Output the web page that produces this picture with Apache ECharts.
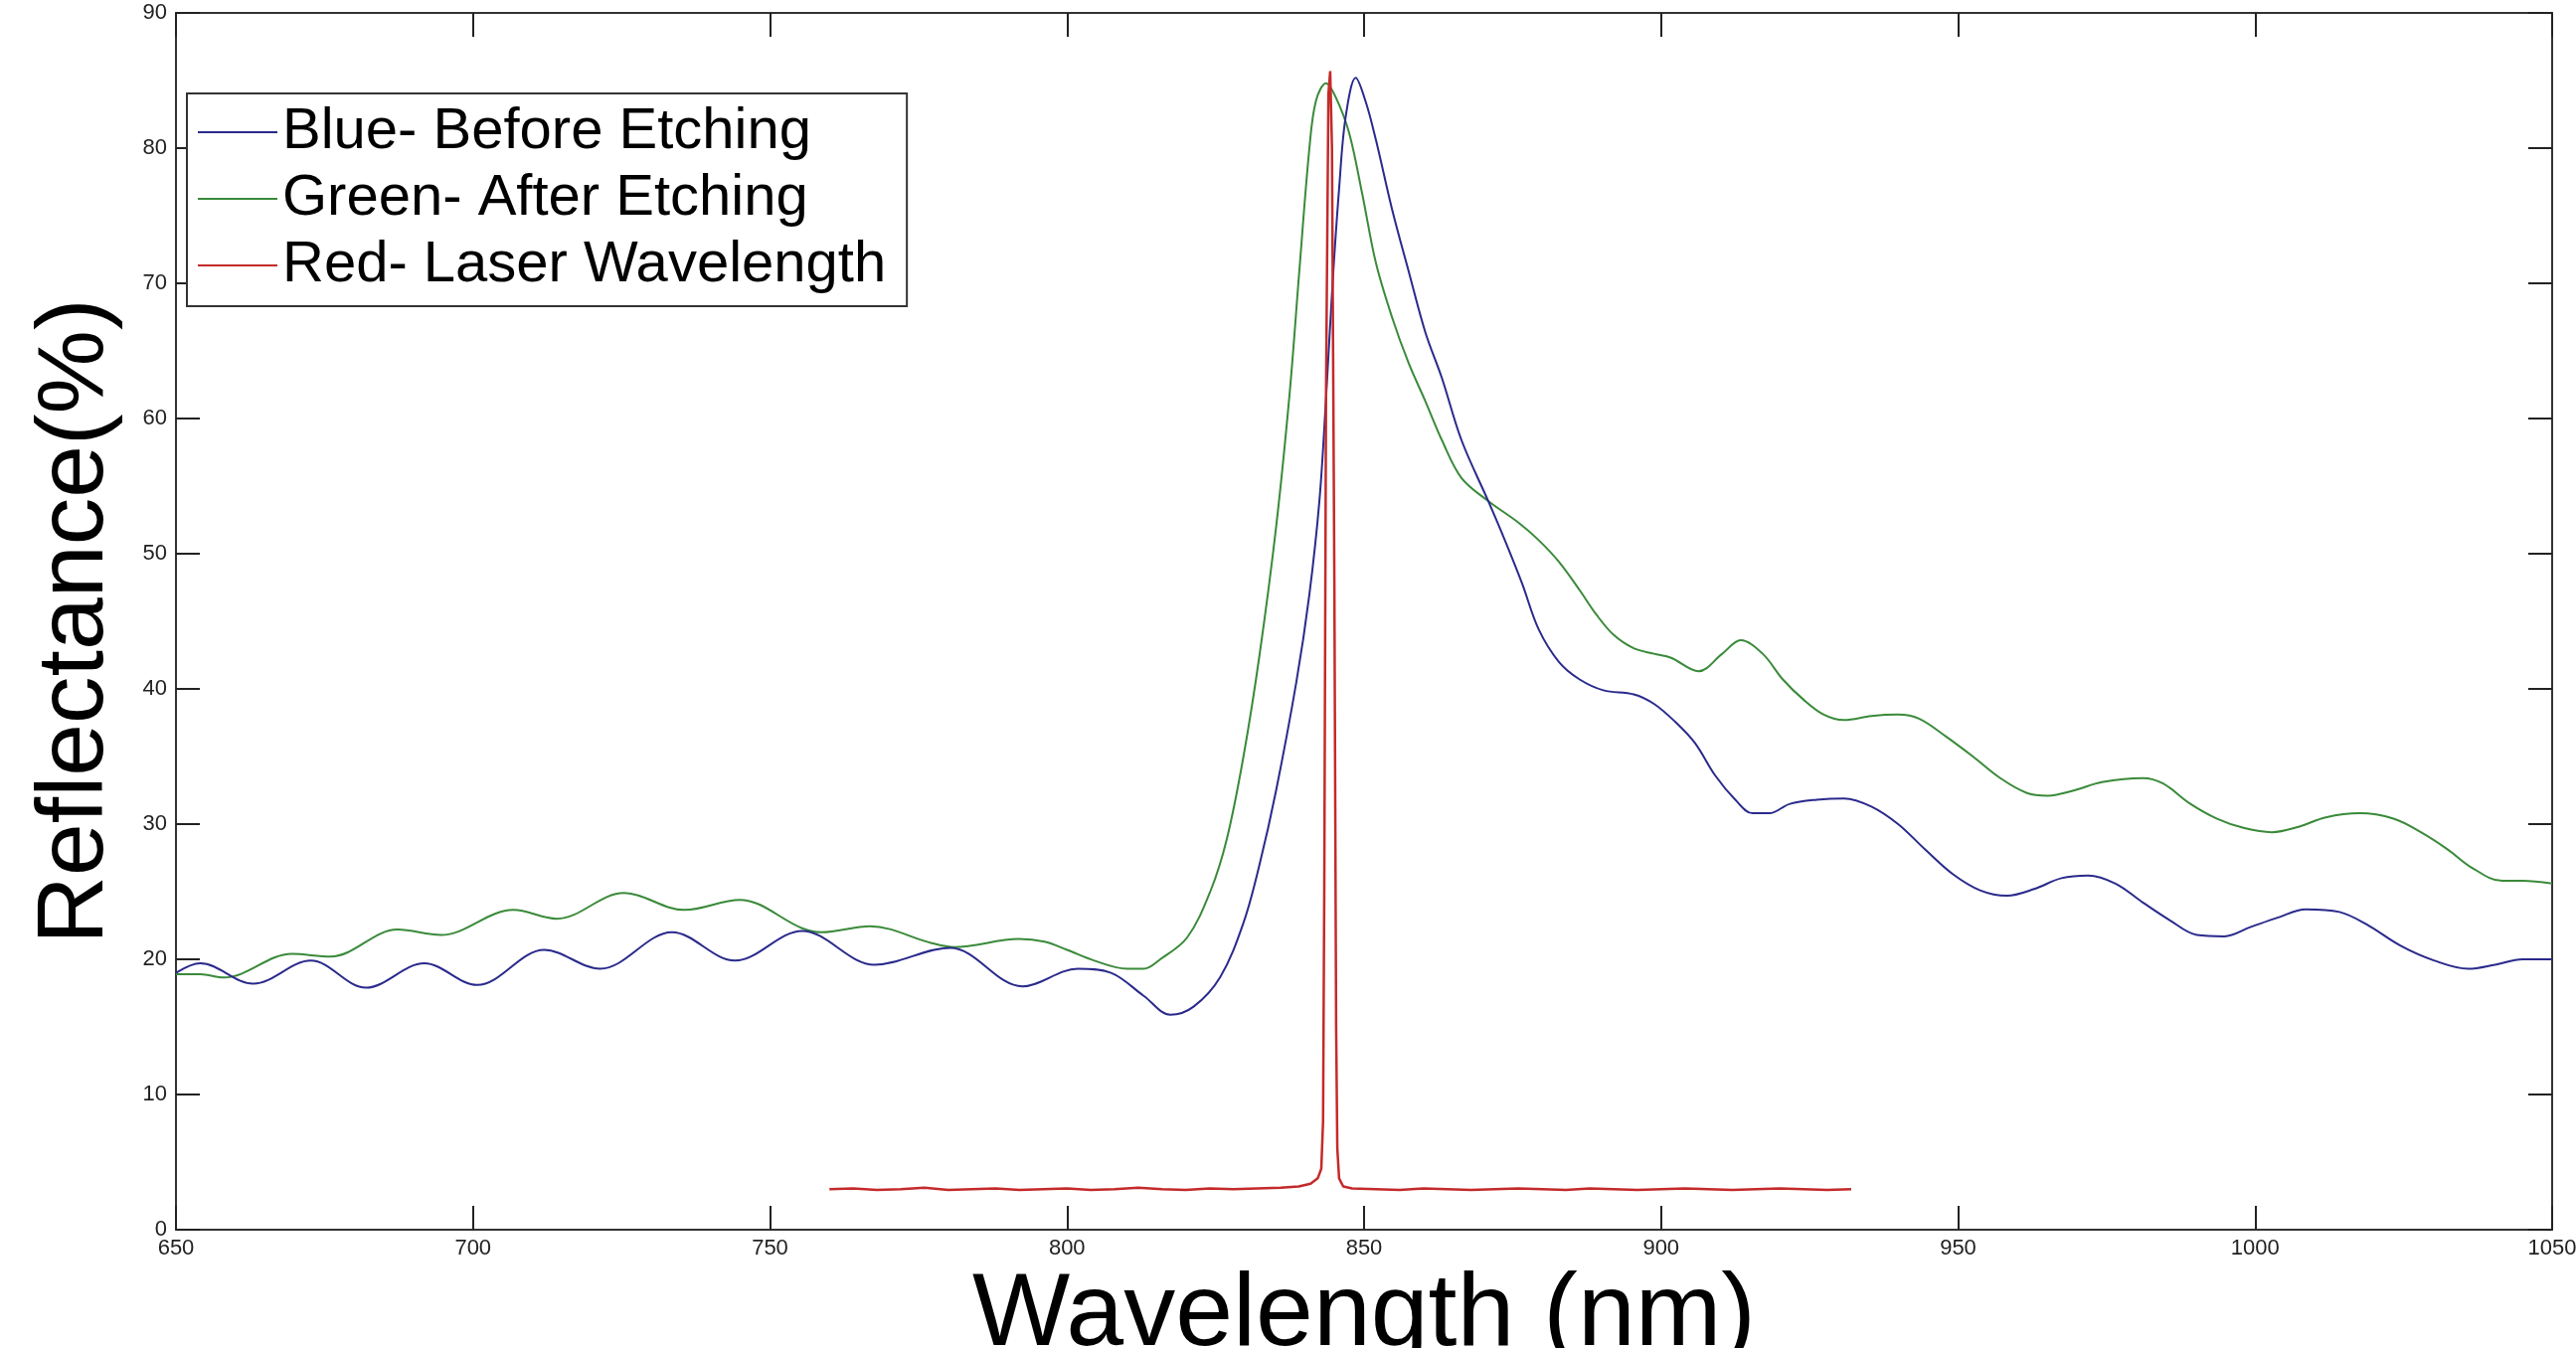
<!DOCTYPE html>
<html>
<head>
<meta charset="utf-8">
<script src="https://cdn.jsdelivr.net/npm/echarts@6/dist/echarts.min.js"></script>
<style>
  html, body { margin: 0; padding: 0; background: #ffffff; overflow: hidden; }
  #chart { width: 2591px; height: 1356px; }
</style>
</head>
<body>
<div id="chart"></div>
<script>
// ---- Data ----
const xTicks = [650, 700, 750, 800, 850, 900, 950, 1000, 1050];
const yTicks = [0, 10, 20, 30, 40, 50, 60, 70, 80, 90];

const seriesNames = ["Blue- Before Etching", "Green- After Etching", "Red- Laser Wavelength"];

const blueWl = [650.0, 654.1, 663.0, 672.7, 682.0, 691.8, 700.7, 712.0, 721.4, 733.5, 744.1, 755.4, 767.6, 780.3, 792.5,
  801.8, 807.4, 812.9, 817.4, 821.3, 825.8, 829.7, 832.4, 835.2, 838.6, 840.8, 842.5, 843.6, 844.7, 845.8, 846.9, 848.6,
  850.3, 852.0, 854.7, 857.5, 860.3, 863.1, 866.4, 870.9, 873.7, 876.6, 879.4, 882.8, 886.3, 890.3, 895.4, 898.8, 902.3,
  905.7, 909.1, 912.5, 915.4, 918.2, 921.7, 926.2, 930.8, 935.4, 939.9, 944.5, 949.1, 953.7, 958.2, 962.8, 967.4, 971.9,
  976.5, 981.1, 985.6, 990.2, 994.8, 999.3, 1003.9, 1008.5, 1014.2, 1018.7, 1024.5, 1030.2, 1035.9, 1040.4, 1045.0, 1050.0];
const blueVal = [19.0, 19.7, 18.2, 19.9, 17.9, 19.7, 18.1, 20.7, 19.3, 22.0, 19.9, 22.1, 19.6, 20.85, 18.0,
  19.3, 19.0, 17.3, 15.9, 16.5, 18.7, 22.7, 27.0, 32.5, 40.5, 47.0, 54.0, 61.5, 70.0, 77.0, 82.3, 85.2,
  83.4, 80.6, 75.5, 70.9, 66.4, 63.0, 58.4, 53.9, 51.0, 47.8, 44.4, 42.0, 40.7, 39.9, 39.6, 38.9, 37.6,
  36.0, 33.6, 31.8, 30.8, 30.8, 31.5, 31.8, 31.9, 31.3, 30.0, 28.1, 26.3, 25.1, 24.7, 25.2, 26.0, 26.2,
  25.6, 24.2, 22.9, 21.8, 21.7, 22.4, 23.1, 23.7, 23.5, 22.6, 21.0, 19.9, 19.3, 19.6, 20.0, 20.0];

const greenWl = [650.0, 654.1, 658.1, 669.5, 676.0, 687.3, 694.6, 706.8, 714.1, 725.4, 735.6, 744.9, 755.4, 758.7, 766.8,
  777.2, 781.0, 791.9, 796.2, 800.0, 804.6, 810.1, 812.9, 815.7, 820.2, 824.1, 826.9, 829.7, 832.4, 835.2, 837.5, 839.1,
  840.8, 841.9, 843.6, 845.3, 847.5, 849.7, 852.0, 854.7, 857.5, 860.3, 863.1, 866.4, 870.9, 876.0, 879.4, 882.8, 886.3,
  889.1, 892.0, 895.4, 898.8, 901.7, 906.3, 910.3, 913.4, 917.1, 920.5, 924.0, 927.4, 930.8, 935.4, 939.9, 943.4, 947.9,
  952.5, 957.1, 961.6, 965.1, 969.6, 974.2, 981.1, 984.5, 989.1, 993.6, 998.2, 1002.8, 1007.3, 1011.9, 1017.6, 1023.3,
  1027.9, 1032.5, 1036.4, 1041.6, 1045.0, 1050.0];
const greenVal = [18.9, 18.9, 18.65, 20.4, 20.2, 22.2, 21.8, 23.65, 23.0, 24.9, 23.65, 24.4, 22.3, 22.0, 22.45,
  21.2, 20.9, 21.5, 21.3, 20.7, 19.9, 19.3, 19.3, 20.0, 21.6, 25.0, 28.9, 35.0, 42.5, 52.0, 62.0, 70.9,
  80.0, 83.5, 84.8, 83.7, 81.1, 76.6, 71.5, 67.5, 64.1, 61.3, 58.4, 55.6, 53.9, 52.3, 51.0, 49.4, 47.3,
  45.5, 44.0, 43.0, 42.6, 42.3, 41.3, 42.6, 43.6, 42.6, 40.7, 39.2, 38.1, 37.7, 38.0, 38.1, 37.8, 36.5,
  35.0, 33.4, 32.3, 32.1, 32.5, 33.1, 33.4, 33.0, 31.5, 30.4, 29.7, 29.4, 29.8, 30.5, 30.8, 30.4,
  29.4, 28.1, 26.8, 25.8, 25.8, 25.6];

const redWl = [760, 764, 768, 772, 776, 780, 784, 788, 792, 796, 800, 804, 808, 812, 816, 820, 824, 828, 832, 836, 839,
  841, 842.2, 842.8, 843.1, 843.3, 843.6, 844.0, 844.3, 844.6, 845.0, 845.3, 845.5, 845.8, 846.5, 848, 852, 856, 860,
  864, 868, 872, 876, 880, 884, 888, 892, 896, 900, 904, 908, 912, 916, 920, 924, 928, 932];
const redVal = [3.0, 3.05, 2.95, 3.0, 3.1, 2.95, 3.0, 3.05, 2.95, 3.0, 3.05, 2.95, 3.0, 3.1, 3.0, 2.95, 3.05, 3.0, 3.05, 3.1, 3.2,
  3.4, 3.8, 4.5, 8, 25, 62, 84, 85.7, 80, 48, 15, 6, 3.8, 3.2, 3.05, 3.0, 2.95, 3.05,
  3.0, 2.95, 3.0, 3.05, 3.0, 2.95, 3.05, 3.0, 2.95, 3.0, 3.05, 3.0, 2.95, 3.0, 3.05, 3.0, 2.95, 3.0];

const seriesColors = ["#2a2a8c", "#3a8a3a", "#c42a2a"];

function zip(a, b) { return a.map((x, i) => [x, b[i]]); }

const FONT = "'Liberation Sans', Arial, Helvetica, sans-serif";
const AXIS_COLOR = "#333333";

const chart = echarts.init(document.getElementById('chart'), null, { renderer: 'canvas' });

const common = {
  axisLine: { show: true, onZero: false, lineStyle: { color: AXIS_COLOR, width: 2 } },
  axisTick: { show: true, inside: true, length: 24, lineStyle: { color: '#222', width: 2 } },
  splitLine: { show: false }
};

const option = {
  backgroundColor: '#ffffff',
  animation: false,
  grid: { left: 177, right: 24, top: 13, bottom: 119, containLabel: false, outerBoundsMode: 'none' },
  legend: {
    show: true,
    data: seriesNames,
    orient: 'vertical',
    left: 188,
    top: 94,
    backgroundColor: '#ffffff',
    borderColor: '#333333',
    borderWidth: 2,
    borderRadius: 0,
    padding: [10, 21, 12, 10],
    itemWidth: 80,
    itemHeight: 20,
    itemGap: 9,
    itemStyle: { color: 'rgba(0,0,0,0)', borderWidth: 0, opacity: 0 },
    textStyle: { fontFamily: FONT, fontSize: 58, color: '#000000' },
    selectedMode: false
  },
  xAxis: [
    Object.assign({
      type: 'value', position: 'bottom', min: 650, max: 1050, interval: 50,
      name: 'Wavelength (nm)', nameLocation: 'middle', nameGap: 18,
      nameTextStyle: { fontFamily: FONT, fontSize: 104, color: '#000000' },
      axisLabel: { show: true, margin: 8, fontFamily: FONT, fontSize: 22, color: '#222',
        showMinLabel: true, showMaxLabel: true,
        formatter: v => xTicks.includes(v) ? String(v) : '' }
    }, common),
    Object.assign({
      type: 'value', position: 'top', min: 650, max: 1050, interval: 50,
      axisLabel: { show: false }
    }, common)
  ],
  yAxis: [
    Object.assign({
      type: 'value', position: 'left', min: 0, max: 90, interval: 10,
      name: 'Reflectance(%)', nameLocation: 'middle', nameGap: 53, nameRotate: 90,
      nameTextStyle: { fontFamily: FONT, fontSize: 95, color: '#000000' },
      axisLabel: { show: true, margin: 9, fontFamily: FONT, fontSize: 22, color: '#222',
        showMinLabel: true, showMaxLabel: true,
        formatter: v => yTicks.includes(v) ? String(v) : '' }
    }, common),
    Object.assign({
      type: 'value', position: 'right', min: 0, max: 90, interval: 10,
      axisLabel: { show: false }
    }, common)
  ],
  series: [
    {
      name: seriesNames[0], type: 'line', xAxisIndex: 0, yAxisIndex: 0,
      data: zip(blueWl, blueVal), symbol: 'none', smooth: 0.35,
      lineStyle: { color: seriesColors[0], width: 2 }, itemStyle: { color: seriesColors[0] }, z: 3
    },
    {
      name: seriesNames[1], type: 'line', xAxisIndex: 0, yAxisIndex: 0,
      data: zip(greenWl, greenVal), symbol: 'none', smooth: 0.35,
      lineStyle: { color: seriesColors[1], width: 2 }, itemStyle: { color: seriesColors[1] }, z: 2
    },
    {
      name: seriesNames[2], type: 'line', xAxisIndex: 0, yAxisIndex: 0,
      data: zip(redWl, redVal), symbol: 'none', smooth: false,
      lineStyle: { color: seriesColors[2], width: 2.5 }, itemStyle: { color: seriesColors[2] }, z: 4
    }
  ]
};

chart.setOption(option);
</script>
</body>
</html>
